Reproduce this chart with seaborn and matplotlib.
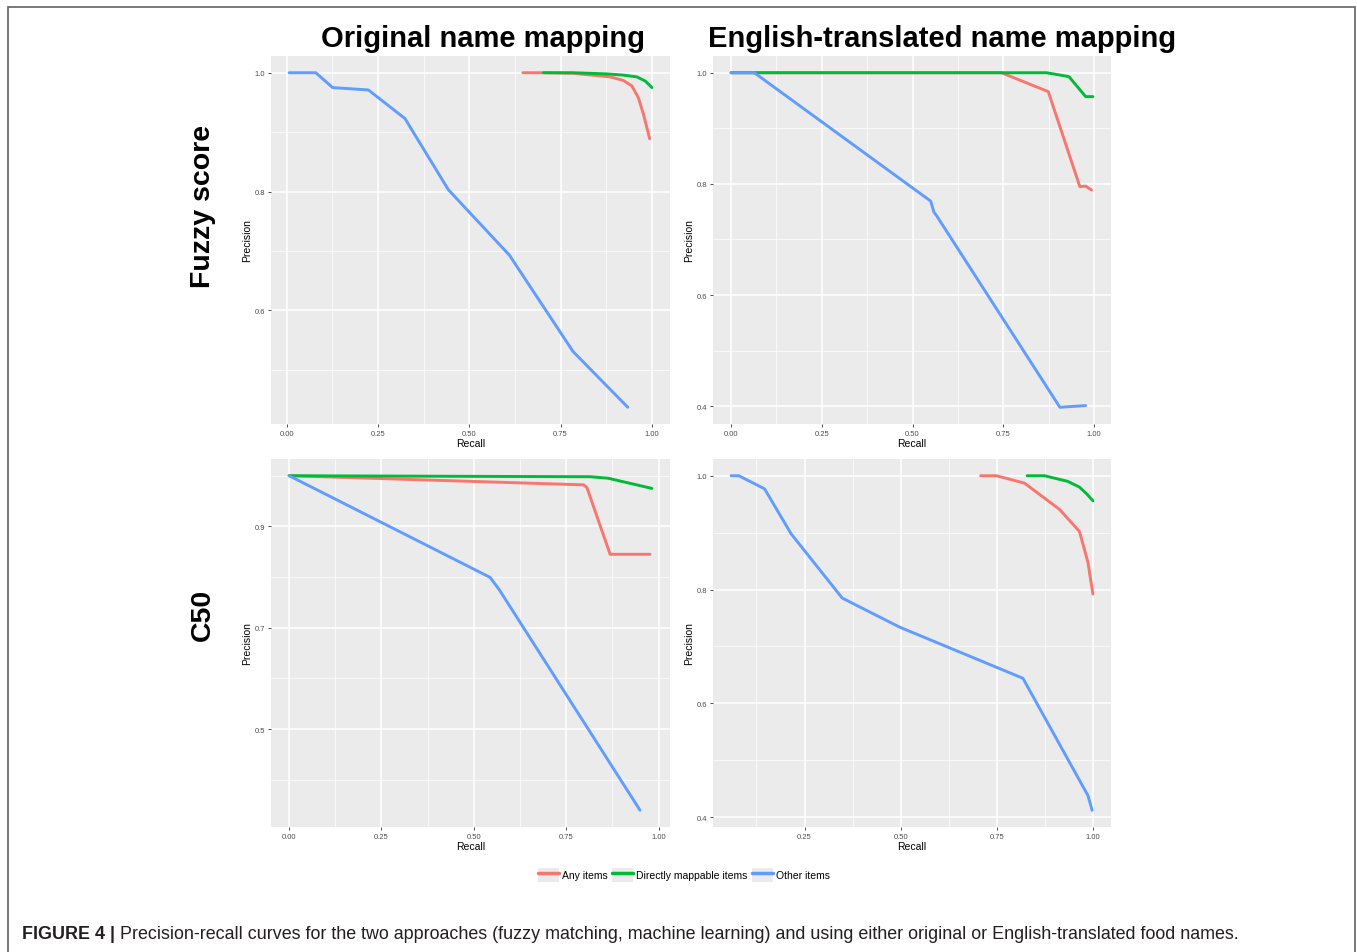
import numpy as np
import pandas as pd
import matplotlib
matplotlib.use("Agg")
import matplotlib.pyplot as plt
from matplotlib.ticker import MultipleLocator, FixedLocator
from matplotlib.patches import Rectangle, Patch
from matplotlib.legend_handler import HandlerTuple
import seaborn as sns

groups = ["Any items", "Directly mappable items", "Other items"]
palette = {"Any items": "#F8766D", "Directly mappable items": "#00BA38", "Other items": "#619CFF"}

# Fuzzy score, original names
fo_any_r = [0.647, 0.703, 0.785, 0.886, 0.922, 0.945, 0.963, 0.977, 0.994]
fo_any_p = [1.0, 1.0, 0.999, 0.993, 0.987, 0.978, 0.958, 0.930, 0.889]
fo_dir_r = [0.703, 0.785, 0.877, 0.922, 0.959, 0.982, 1.0]
fo_dir_p = [1.0, 1.0, 0.998, 0.996, 0.993, 0.986, 0.975]
fo_oth_r = [0.007, 0.080, 0.126, 0.224, 0.324, 0.443, 0.610, 0.784, 0.934]
fo_oth_p = [1.0, 1.0, 0.975, 0.971, 0.923, 0.803, 0.693, 0.531, 0.437]

# Fuzzy score, English-translated names
fe_any_r = [0.0, 0.745, 0.874, 0.961, 0.977, 0.993]
fe_any_p = [1.0, 1.0, 0.966, 0.795, 0.796, 0.789]
fe_dir_r = [0.0, 0.869, 0.931, 0.977, 0.997]
fe_dir_p = [1.0, 1.0, 0.993, 0.957, 0.957]
fe_oth_r = [0.0, 0.064, 0.550, 0.559, 0.566, 0.906, 0.977]
fe_oth_p = [1.0, 1.0, 0.769, 0.749, 0.743, 0.398, 0.401]

# C50, original names
co_any_r = [0.0, 0.797, 0.806, 0.869, 0.977]
co_any_p = [1.0, 0.982, 0.977, 0.845, 0.845]
co_dir_r = [0.0, 0.815, 0.864, 0.982]
co_dir_p = [1.0, 0.998, 0.995, 0.975]
co_oth_r = [0.0, 0.544, 0.569, 0.950]
co_oth_p = [1.0, 0.7995, 0.775, 0.340]

# C50, English-translated names
ce_any_r = [0.708, 0.749, 0.822, 0.913, 0.965, 0.987, 1.0]
ce_any_p = [1.0, 1.0, 0.987, 0.941, 0.902, 0.848, 0.792]
ce_dir_r = [0.829, 0.874, 0.935, 0.965, 0.984, 1.0]
ce_dir_p = [1.0, 1.0, 0.990, 0.980, 0.968, 0.956]
ce_oth_r = [0.059, 0.079, 0.146, 0.215, 0.348, 0.497, 0.818, 0.987, 0.998]
ce_oth_p = [1.0, 1.0, 0.977, 0.898, 0.785, 0.734, 0.644, 0.438, 0.412]


def make_df(parts):
    rows = []
    for g, (r, p) in zip(groups, parts):
        rows.append(pd.DataFrame({"Recall": r, "Precision": p, "group": g}))
    return pd.concat(rows, ignore_index=True)


panels = [
    make_df([(fo_any_r, fo_any_p), (fo_dir_r, fo_dir_p), (fo_oth_r, fo_oth_p)]),
    make_df([(fe_any_r, fe_any_p), (fe_dir_r, fe_dir_p), (fe_oth_r, fe_oth_p)]),
    make_df([(co_any_r, co_any_p), (co_dir_r, co_dir_p), (co_oth_r, co_oth_p)]),
    make_df([(ce_any_r, ce_any_p), (ce_dir_r, ce_dir_p), (ce_oth_r, ce_oth_p)]),
]
ytick_sets = [[0.6, 0.8, 1.0], [0.4, 0.6, 0.8, 1.0], [0.5, 0.7, 0.9], [0.4, 0.6, 0.8, 1.0]]

sns.set_theme(style="darkgrid")
plt.rcParams["font.family"] = ["Liberation Sans", "DejaVu Sans"]
plt.rcParams["text.color"] = "black"
plt.rcParams["axes.labelcolor"] = "black"

W, H = 1357, 953
fig = plt.figure(figsize=(W / 100, H / 100), dpi=100)

# panel boxes in pixels: left, top, right, bottom
boxes = [(271, 57, 670, 425), (713, 57, 1111, 425), (271, 460, 670, 828), (713, 460, 1111, 828)]

for df, (l, t, r, b), yt in zip(panels, boxes, ytick_sets):
    ax = fig.add_axes([l / W, 1 - b / H, (r - l) / W, (b - t) / H])
    ax.set_facecolor("#EBEBEB")
    sns.lineplot(data=df, x="Recall", y="Precision", hue="group", hue_order=groups,
                 palette=palette, linewidth=2.1, sort=False, estimator=None, ax=ax, legend=False)
    xmin, xmax = df["Recall"].min(), df["Recall"].max()
    ymin, ymax = df["Precision"].min(), df["Precision"].max()
    dx, dy = (xmax - xmin) * 0.05, (ymax - ymin) * 0.05
    ax.set_xlim(xmin - dx, xmax + dx)
    ax.set_ylim(ymin - dy, ymax + dy)
    ax.xaxis.set_major_locator(FixedLocator([0, 0.25, 0.5, 0.75, 1.0]))
    ax.xaxis.set_minor_locator(MultipleLocator(0.125))
    ax.yaxis.set_major_locator(FixedLocator(yt))
    ax.yaxis.set_minor_locator(MultipleLocator(0.1))
    ax.set_xticklabels(["0.00", "0.25", "0.50", "0.75", "1.00"])
    ax.set_yticklabels([f"{v:.1f}" for v in yt])
    ax.grid(which="major", color="white", linewidth=1.1)
    ax.grid(which="minor", color="white", linewidth=0.5)
    ax.tick_params(which="major", length=2.5, width=0.6, color="#333333", labelsize=5.5,
                   labelcolor="#4D4D4D", pad=1.5, left=True, bottom=True)
    ax.tick_params(which="minor", length=0)
    ax.set_xlabel("Recall", fontsize=7.5, labelpad=1)
    ax.set_ylabel("Precision", fontsize=7.5, labelpad=2)
    for s in ax.spines.values():
        s.set_visible(False)

# column and row titles
fig.text(483 / W, 1 - 39 / H, "Original name mapping", ha="center", va="center",
         fontsize=21, fontweight="bold")
fig.text(942 / W, 1 - 39 / H, "English-translated name mapping", ha="center", va="center",
         fontsize=21, fontweight="bold")
fig.text(203 / W, 1 - 206 / H, "Fuzzy score", ha="center", va="center", rotation=90,
         fontsize=20.5, fontweight="bold")
fig.text(203 / W, 1 - 615 / H, "C50", ha="center", va="center", rotation=90,
         fontsize=20.5, fontweight="bold")

# legend with grey key boxes like ggplot
handles = [(Patch(facecolor="#EBEBEB", edgecolor="none"),
            plt.Line2D([0], [0], color=palette[g], linewidth=2.5)) for g in groups]
fig.legend(handles, groups, loc="center", bbox_to_anchor=(684 / W, 1 - 876 / H),
           ncol=3, frameon=False, fontsize=7.5, handlelength=2.0, handleheight=1.7,
           handletextpad=0.3, columnspacing=0.4,
           handler_map={tuple: HandlerTuple(ndivide=1, pad=0)})

# caption
t1 = fig.text(22 / W, 1 - 935 / H, "FIGURE 4 |", ha="left", va="center",
              fontsize=12.9, fontweight="bold", color="#231F20")
plt.annotate(" Precision-recall curves for the two approaches (fuzzy matching, machine learning) and using "
             "either original or English-translated food names.",
             xy=(1, 0.5), xycoords=t1, ha="left", va="center", fontsize=12.9, color="#231F20")

# outer frame
fig.patches.append(Rectangle((8 / W, -0.01), (1355 - 8) / W, 1 - 8 / H + 0.01,
                             transform=fig.transFigure, fill=False, edgecolor="#6E6E6E",
                             linewidth=1.3))

fig.savefig("out.png", dpi=100)
